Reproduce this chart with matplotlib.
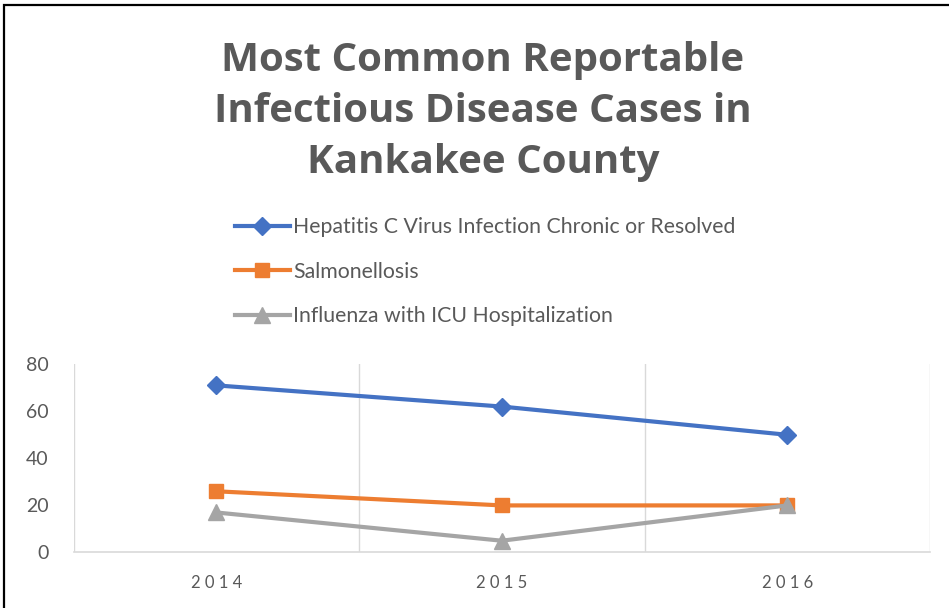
import matplotlib
matplotlib.use('Agg')
import matplotlib.pyplot as plt
from matplotlib.patches import Rectangle

# data
years = ['2014', '2015', '2016']
hep_c = [71, 62, 50]
salmonellosis = [26, 20, 20]
influenza_icu = [17, 5, 20]
series_names = ['Hepatitis C Virus Infection Chronic or Resolved',
                'Salmonellosis',
                'Influenza with ICU Hospitalization']
title_lines = ['Most Common Reportable', 'Infectious Disease Cases in', 'Kankakee County']
yticks = [0, 20, 40, 60, 80]

text_gray = '#595959'
grid_gray = '#d9d9d9'

fig = plt.figure(figsize=(9.49, 6.08), dpi=100)
ax = fig.add_axes([0.0775, 0.0913, 0.9025, 0.3097])

x = list(range(len(years)))
ax.plot(x, hep_c, color='#4472C4', lw=3, marker='D', ms=9, label=series_names[0])
ax.plot(x, salmonellosis, color='#ED7D31', lw=3, marker='s', ms=10, label=series_names[1])
ax.plot(x, influenza_icu, color='#A5A5A5', lw=3, marker='^', ms=11, label=series_names[2])

ax.set_xlim(-0.5, len(years) - 0.5)
ax.set_ylim(0, 80)
ax.set_yticks(yticks)
ax.set_xticks(x)
ax.set_xticklabels([' '.join(y) for y in years], fontsize=12, color=text_gray, family='Lato')
ax.tick_params(axis='y', labelsize=14, colors=text_gray, length=0, pad=18)
ax.tick_params(axis='x', length=0, pad=16)
for lbl in ax.get_yticklabels():
    lbl.set_family('Lato')

# category separators like the Excel gridlines
for b in [i - 0.5 for i in range(len(years) + 1)]:
    ax.axvline(b, color=grid_gray, lw=1, zorder=0)
for s in ['top', 'right', 'left']:
    ax.spines[s].set_visible(False)
ax.spines['bottom'].set_color(grid_gray)
ax.spines['bottom'].set_linewidth(1.2)

# title, one line at a time
for i, line in enumerate(title_lines):
    fig.text(0.509, 1 - (60 + 51 * i) / 608, line, ha='center', va='center',
             fontsize=29, fontweight='bold', color=text_gray, family='Open Sans')

leg = fig.legend(loc='upper left', bbox_to_anchor=(0.227, 1 - 198 / 608),
                 frameon=False, handlelength=2.6, handletextpad=0.15,
                 labelspacing=1.15, prop={'family': 'Lato', 'size': 15.3})
for t in leg.get_texts():
    t.set_color(text_gray)

# black frame around the chart
fig.patches.append(Rectangle((4 / 949, -0.05), 1.1, 1 - 5 / 608 + 0.05,
                             transform=fig.transFigure, fill=False,
                             edgecolor='black', lw=1.6))

fig.savefig('out.png', dpi=100)
